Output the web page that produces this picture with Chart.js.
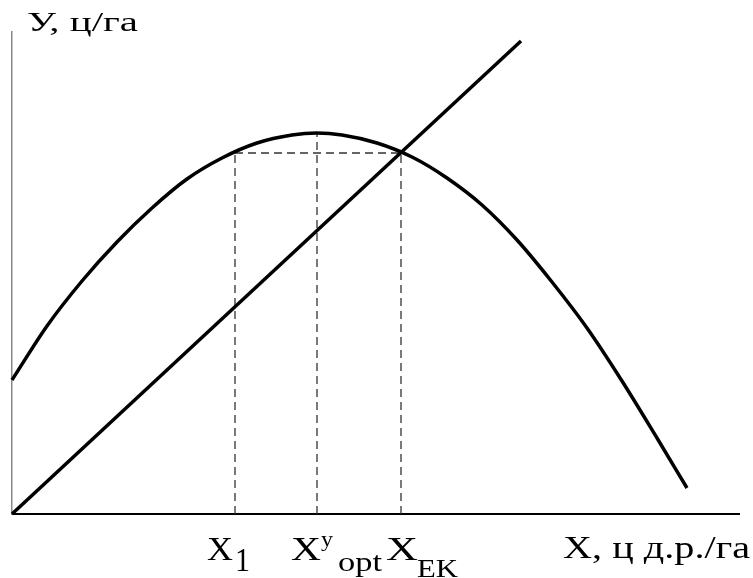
<!DOCTYPE html>
<html>
<head>
<meta charset="utf-8">
<script src="https://cdn.jsdelivr.net/npm/chart.js@4"></script>
<style>
  html, body { margin: 0; padding: 0; background: #fff; }
  #chart { display: block; }
</style>
</head>
<body>
<canvas id="chart" width="753" height="578"></canvas>
<script>
// Yield curve (parabola-like) and the straight cost line
const curveX = [0, 35, 70, 105, 140, 175, 210, 245, 280, 305, 330, 365, 400, 435, 470, 505, 540, 575, 610, 645, 675];
const curveY = [134, 188, 233, 272, 306, 335, 356, 371, 379, 381, 379, 371, 357, 336, 309, 274, 232, 186, 133, 76, 26];
const lineX = [0, 509];
const lineY = [0, 473];

// Characteristic points on the X axis: X1, X opt, X EK
const dropX = [223, 305, 389];
const dropY = [361, 381, 361];

const xMax = 727;
const yMax = 482;

const serif = '"Liberation Serif", "Times New Roman", Times, serif';

function toPoints(xs, ys) {
    return xs.map((x, i) => ({ x: x, y: ys[i] }));
}

const dashStyle = {
    borderColor: '#333',
    borderWidth: 1.3,
    borderDash: [8, 5],
    pointRadius: 0,
    fill: false
};

const datasets = [
    {
        data: toPoints(curveX, curveY),
        borderColor: '#000',
        borderWidth: 3.5,
        pointRadius: 0,
        cubicInterpolationMode: 'monotone',
        fill: false
    },
    {
        data: toPoints(lineX, lineY),
        borderColor: '#000',
        borderWidth: 3.5,
        pointRadius: 0,
        fill: false
    }
];

// vertical drop lines from the curve to the axis
dropX.forEach((x, i) => {
    datasets.push(Object.assign({ data: [{ x: x, y: 0 }, { x: x, y: dropY[i] }] }, dashStyle));
});
// horizontal dashed line between X1 and X EK
datasets.push(Object.assign({
    data: [{ x: dropX[0], y: dropY[0] }, { x: dropX[2], y: dropY[2] }]
}, dashStyle));

// text squeezed/stretched horizontally to a given width
function stretchText(ctx, text, x, y, size, width) {
    ctx.save();
    ctx.font = size + 'px ' + serif;
    const w = ctx.measureText(text).width;
    ctx.translate(x, y);
    ctx.scale(width / w, 1);
    ctx.fillText(text, 0, 0);
    ctx.restore();
}

const labelsPlugin = {
    id: 'axisLabels',
    afterDraw(chart) {
        const ctx = chart.ctx;
        const xs = chart.scales.x;
        ctx.save();
        ctx.fillStyle = '#000';
        ctx.textBaseline = 'alphabetic';
        ctx.textAlign = 'left';

        // axis titles
        stretchText(ctx, 'У, ц/га', 27, 31, 27, 111);
        stretchText(ctx, 'X, ц д.р./га', 563, 558, 31, 187);

        const p1 = xs.getPixelForValue(dropX[0]);
        const p2 = xs.getPixelForValue(dropX[1]);
        const p3 = xs.getPixelForValue(dropX[2]);

        // X1
        stretchText(ctx, 'X', p1 - 28, 560, 34, 26);
        stretchText(ctx, '1', p1, 571, 34, 15);

        // X^у opt
        stretchText(ctx, 'X', p2 - 26, 560, 34, 30);
        stretchText(ctx, 'у', p2 + 4, 546, 21, 12);
        stretchText(ctx, 'opt', p2 + 21, 571, 28, 44);

        // X EK
        stretchText(ctx, 'X', p3 - 15, 560, 34, 32);
        stretchText(ctx, 'EK', p3 + 16, 577, 25, 41);

        ctx.restore();
    }
};

function drawChart() {
    new Chart(document.getElementById('chart'), {
        type: 'line',
        data: { datasets: datasets },
        options: {
            responsive: false,
            animation: false,
            clip: false,
            layout: { padding: { left: 4, top: 32, right: 14, bottom: 56 } },
            plugins: {
                legend: { display: false },
                tooltip: { enabled: false }
            },
            scales: {
                x: {
                    type: 'linear',
                    min: 0,
                    max: xMax,
                    ticks: { display: false },
                    grid: { display: false },
                    border: { display: true, color: '#000', width: 2 }
                },
                y: {
                    type: 'linear',
                    min: 0,
                    max: yMax,
                    ticks: { display: false },
                    grid: { display: false },
                    border: { display: true, color: '#888', width: 1.5 }
                }
            }
        },
        plugins: [labelsPlugin]
    });
}

document.fonts.load('27px "Liberation Serif"', 'У, ц/га').then(drawChart, drawChart);
</script>
</body>
</html>
